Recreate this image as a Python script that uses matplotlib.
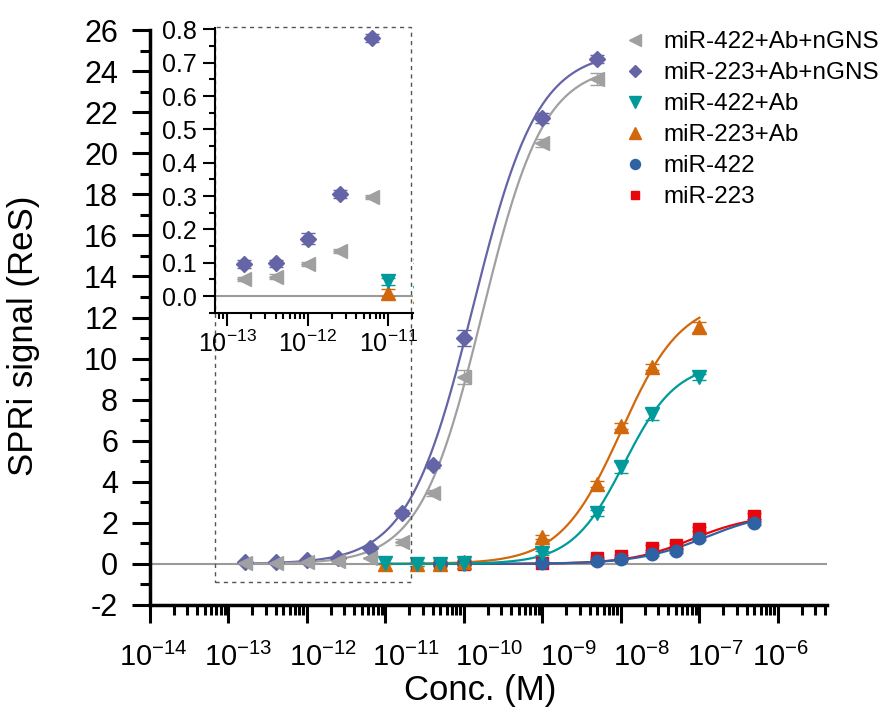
"""
SPRi dose-response curves for miR-422 / miR-223 with and without Ab and nGNS
amplification, with an inset zooming into the low-concentration region.

Output:
    out.png
"""

import numpy as np
import matplotlib
matplotlib.use("Agg")
import matplotlib.pyplot as plt
from matplotlib.lines import Line2D
from matplotlib.patches import Rectangle
from matplotlib.ticker import FixedLocator, LogLocator, MultipleLocator, NullFormatter, LogFormatterMathtext
from matplotlib.transforms import ScaledTranslation

plt.rcParams["font.family"] = ["Liberation Sans", "DejaVu Sans"]
plt.rcParams["mathtext.fontset"] = "custom"
plt.rcParams["mathtext.rm"] = "Liberation Sans"
plt.rcParams["mathtext.it"] = "Liberation Sans:italic"
plt.rcParams["mathtext.bf"] = "Liberation Sans:bold"
plt.rcParams["axes.unicode_minus"] = False

# Concentrations (M)
CONC_NGNS = [1.6e-13, 4e-13, 1e-12, 2.5e-12, 6.4e-12, 1.6e-11, 4e-11, 1e-10, 1e-9, 5e-9]
CONC_AB = [1e-11, 2.5e-11, 5e-11, 1e-10, 1e-9, 5e-9, 1e-8, 2.5e-8, 1e-7]
CONC_BARE = [5e-11, 1e-10, 1e-9, 5e-9, 1e-8, 2.5e-8, 5e-8, 1e-7, 5e-7]

# SPRi signal (ReS) and error bars
SIG_422_AB_NGNS = [0.05, 0.058, 0.097, 0.134, 0.298, 1.07, 3.45, 9.1, 20.5, 23.6]
ERR_422_AB_NGNS = [0.006, 0.008, 0.006, 0.006, 0.006, 0.15, 0.15, 0.35, 0.2, 0.3]
SIG_223_AB_NGNS = [0.095, 0.098, 0.172, 0.306, 0.774, 2.5, 4.8, 11.0, 21.7, 24.6]
ERR_223_AB_NGNS = [0.012, 0.010, 0.016, 0.012, 0.012, 0.15, 0.15, 0.4, 0.25, 0.2]

SIG_422_AB = [0.044, 0.01, 0.0, 0.05, 0.55, 2.5, 4.7, 7.3, 9.1]
ERR_422_AB = [0.01, 0.1, 0.1, 0.1, 0.1, 0.15, 0.25, 0.3, 0.15]
SIG_223_AB = [0.01, 0.0, 0.02, 0.08, 1.3, 3.9, 6.7, 9.6, 11.55]
ERR_223_AB = [0.01, 0.1, 0.1, 0.1, 0.1, 0.15, 0.15, 0.15, 0.25]

SIG_422 = [0.0, 0.0, 0.05, 0.15, 0.25, 0.5, 0.65, 1.25, 2.0]
ERR_422 = [0.05, 0.05, 0.05, 0.05, 0.05, 0.1, 0.1, 0.1, 0.1]
SIG_223 = [0.0, 0.02, 0.05, 0.3, 0.4, 0.8, 0.9, 1.7, 2.35]
ERR_223 = [0.05, 0.05, 0.05, 0.05, 0.05, 0.1, 0.1, 0.1, 0.15]

# Hill fit parameters: (top, K, n)
FIT_422_AB_NGNS = (24.3, 1.7e-10, 1.1)
FIT_223_AB_NGNS = (25.0, 1.3e-10, 1.05)
FIT_422_AB = (9.8, 1.1e-8, 1.3)
FIT_223_AB = (12.9, 1.0e-8, 1.12)
FIT_422 = (2.6, 1.2e-7, 1.0)
FIT_223 = (2.4, 8e-8, 1.1)

LABELS = ["miR-422+Ab+nGNS", "miR-223+Ab+nGNS", "miR-422+Ab", "miR-223+Ab", "miR-422", "miR-223"]
COLOURS = ["#a0a0a0", "#6464a6", "#009a9a", "#d2680c", "#2f62a2", "#e8060c"]
MARKERS = ["<", "D", "v", "^", "o", "s"]
MSIZES = [10, 8, 10, 10, 9, 8]

X_TICK_LABEL_SHIFT_PX = [3, 10, 16, 21, 25, 26, 21, 16, 3]


def hill(x, top, k, n):
    x = np.asarray(x)
    r = (x / k) ** n
    return top * r / (1 + r)


series = [
    (CONC_NGNS, SIG_422_AB_NGNS, ERR_422_AB_NGNS, FIT_422_AB_NGNS),
    (CONC_NGNS, SIG_223_AB_NGNS, ERR_223_AB_NGNS, FIT_223_AB_NGNS),
    (CONC_AB, SIG_422_AB, ERR_422_AB, FIT_422_AB),
    (CONC_AB, SIG_223_AB, ERR_223_AB, FIT_223_AB),
    (CONC_BARE, SIG_422, ERR_422, FIT_422),
    (CONC_BARE, SIG_223, ERR_223, FIT_223),
]

fig = plt.figure(figsize=(8.81, 7.15), dpi=100)
ax = fig.add_axes([150 / 881, 1 - 605 / 715, 677 / 881, 575 / 715])

ax.axhline(0, color="#9a9a9a", lw=1.5, zorder=1)

# draw back to front so the legend's first entries sit on top
for i in reversed(range(len(series))):
    xs, ys, es, fit = series[i]
    xf = np.logspace(np.log10(xs[0]), np.log10(xs[-1]), 300)
    ax.plot(xf, hill(xf, *fit), color=COLOURS[i], lw=1.6, zorder=2)
    ax.errorbar(xs, ys, yerr=es, fmt=MARKERS[i], ms=MSIZES[i], color=COLOURS[i],
                mec=COLOURS[i], ecolor=COLOURS[i], elinewidth=1.0, capsize=5,
                capthick=1.0, zorder=3)

ax.set_xscale("log")
ax.set_xlim(1e-14, 10 ** -5.375)
ax.set_ylim(-2, 26)

ax.spines["top"].set_visible(False)
ax.spines["right"].set_visible(False)
for s in ("left", "bottom"):
    ax.spines[s].set_linewidth(2.5)

ax.xaxis.set_major_locator(FixedLocator([10.0 ** k for k in range(-14, -5)]))
ax.xaxis.set_major_formatter(LogFormatterMathtext())
ax.xaxis.set_minor_locator(LogLocator(base=10, subs=np.arange(2, 10), numticks=30))
ax.xaxis.set_minor_formatter(NullFormatter())
ax.yaxis.set_major_locator(MultipleLocator(2))
ax.yaxis.set_minor_locator(MultipleLocator(1))

ax.tick_params(axis="both", which="major", direction="out", length=13, width=2.2)
ax.tick_params(axis="both", which="minor", direction="out", length=7, width=2.2)
ax.tick_params(axis="y", which="major", labelsize=22, pad=10)
ax.tick_params(axis="x", which="major", labelsize=21, pad=14)

ax.set_xlabel("Conc. (M)", fontsize=25)
ax.set_ylabel("SPRi signal (ReS)", fontsize=25)
ax.xaxis.set_label_coords(0.487, -0.12)
ax.yaxis.set_label_coords(-0.162, 0.468)

# the reference's decade labels drift off their ticks; reproduce that
for tick, dx in zip(ax.xaxis.get_major_ticks(), X_TICK_LABEL_SHIFT_PX):
    lab = tick.label1
    lab.set_transform(lab.get_transform() + ScaledTranslation(dx / 100, 0, fig.dpi_scale_trans))

# dashed box marking the zoomed region
box_x0, box_x1 = 10 ** -13.17, 10 ** -10.67
box_y0, box_y1 = -0.88, 26.15
ax.add_patch(Rectangle((box_x0, box_y0), box_x1 - box_x0, box_y1 - box_y0, fill=False,
                       ls=(0, (3, 3)), lw=1.0, edgecolor="#555555", clip_on=False, zorder=4))

# legend: markers only
handles = [Line2D([], [], ls="none", marker=MARKERS[i], ms=MSIZES[i] * 0.8,
                  color=COLOURS[i], mec=COLOURS[i]) for i in range(len(LABELS))]
fig.legend(handles, LABELS, loc="upper left", bbox_to_anchor=(606 / 881, 1 - 14 / 715),
           frameon=False, fontsize=17.5, handlelength=1.0, handletextpad=0.65,
           labelspacing=0.37, borderpad=0.2)

# inset
ins = fig.add_axes([215 / 881, 1 - 313 / 715, 198 / 881, 285 / 715])
ins.patch.set_alpha(0)
ins.axhline(0, color="#9a9a9a", lw=1.5, zorder=1)
for i in reversed(range(4)):
    xs, ys, es, _ = series[i]
    ins.errorbar(xs, ys, yerr=es, fmt=MARKERS[i], ms=MSIZES[i], color=COLOURS[i],
                 mec=COLOURS[i], ecolor=COLOURS[i], elinewidth=1.0, capsize=5,
                 capthick=1.0, zorder=3)
ins.set_xscale("log")
ins.set_xlim(10 ** -13.15, 10 ** -10.69)
ins.set_ylim(-0.051, 0.804)
ins.spines["top"].set_visible(False)
ins.spines["right"].set_visible(False)
for s in ("left", "bottom"):
    ins.spines[s].set_linewidth(1.5)
ins.xaxis.set_major_locator(FixedLocator([1e-13, 1e-12, 1e-11]))
ins.xaxis.set_major_formatter(LogFormatterMathtext())
ins.xaxis.set_minor_locator(LogLocator(base=10, subs=np.arange(2, 10), numticks=30))
ins.xaxis.set_minor_formatter(NullFormatter())
ins.yaxis.set_major_locator(MultipleLocator(0.1))
ins.yaxis.set_minor_locator(MultipleLocator(0.05))
ins.yaxis.set_major_formatter(matplotlib.ticker.FormatStrFormatter("%.1f"))
ins.tick_params(axis="both", which="major", direction="out", length=9, width=1.5, labelsize=18, pad=4)
ins.tick_params(axis="both", which="minor", direction="out", length=4, width=1.5)

fig.savefig("out.png", dpi=100)
plt.close(fig)
